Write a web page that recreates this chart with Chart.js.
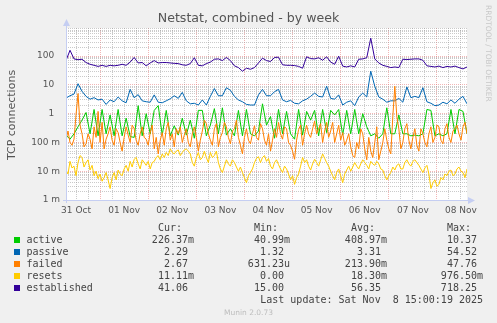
<!DOCTYPE html>
<html>
<head>
<meta charset="utf-8">
<script src="https://cdn.jsdelivr.net/npm/chart.js@4/dist/chart.umd.min.js"></script>
<style>
  html, body { margin: 0; padding: 0; background: #F0F0F0; }
  canvas { display: block; }
</style>
</head>
<body>
<canvas id="netstat" width="497" height="323"></canvas>
<script>
// week window: Oct 31 07:00 .. Nov 8 15:00, hours counted from Oct 31 00:00
const startHour = 7;
const spanHours = 200;

// 2-hour samples
const active = [
  0.18, 0.13, 0.2, 0.35, 0.6, 1.1, 0.2, 1.4, 0.17, 1.4,
  0.2, 0.9, 0.17, 1.4, 0.17, 0.7, 0.16, 0.15, 1.9, 0.17,
  1.0, 0.2, 1.3, 1.9, 0.18, 1.3, 0.17, 0.38, 0.18, 0.7,
  0.18, 0.6, 0.14, 1.3, 1.3, 0.17, 0.4, 1.5, 0.2, 1.6,
  0.18, 0.3, 0.17, 1.3, 0.17, 1.4, 0.2, 0.17, 0.25, 2.2,
  0.4, 0.8, 0.14, 1.4, 0.2, 1.2, 0.2, 0.13, 1.4, 0.18,
  1.2, 0.6, 1.3, 0.17, 1.4, 0.22, 1.3, 0.9, 1.4, 0.18,
  1.3, 0.2, 1.4, 0.2, 1.0, 0.35, 0.17, 0.2, 0.14, 0.2,
  1.6, 0.2, 0.2, 0.9, 0.2, 0.2, 0.17, 0.18, 0.17, 0.2,
  1.4, 1.3, 0.17, 0.2, 0.17, 0.2, 1.4, 0.2, 1.4, 1.2,
  0.2
];
const passive = [
  3.5, 4.2, 4.8, 11, 6, 4.0, 3.2, 3.6, 3.0, 3.2,
  2.1, 3.0, 2.6, 3.8, 2.8, 2.4, 7, 3.6, 4.6, 2.8,
  2.6, 2.5, 4.5, 2.5, 2.4, 2.8, 3.3, 4.2, 3.4, 5.5,
  2.8, 2.2, 2.3, 2.0, 3.0, 2.0, 4.0, 7.5, 4.2, 4.2,
  8, 6.5, 4.0, 3.0, 2.6, 2.1, 2.0, 2.0, 4.5, 7,
  4.2, 4.2, 5.8, 7, 3.0, 2.6, 2.9, 2.3, 2.2, 2.8,
  3.2, 4.0, 5.2, 4.0, 3.8, 9, 3.4, 3.2, 4.5, 2.0,
  2.5, 2.8, 1.9, 3.8, 5.2, 3.8, 30, 9, 3.8, 3.2,
  2.5, 2.8, 2.8, 3.4, 2.5, 8.5, 3.6, 4.0, 3.6, 8,
  2.6, 2.3, 1.9, 2.0, 2.5, 2.2, 3.0, 2.3, 3.2, 4.0,
  2.2
];
// hourly samples
const failed = [
  0.12, 0.25, 0.1, 0.08, 0.13, 0.9, 5, 0.4, 0.2, 0.07, 0.09, 0.2, 0.13, 0.06, 0.35, 0.15, 1.2, 0.1, 0.5, 0.06,
  0.13, 0.2, 0.35, 0.12, 0.08, 0.3, 0.22, 0.1, 0.05, 0.15, 0.35, 0.18, 0.1, 0.4, 0.3, 0.12, 0.08, 0.2, 0.35, 0.15,
  0.13, 0.08, 0.22, 0.4, 0.06, 0.15, 0.04, 0.12, 0.22, 0.08, 0.3, 0.5, 0.12, 0.2, 0.07, 0.3, 0.2, 0.35, 0.1, 0.18,
  0.3, 0.1, 0.07, 0.2, 0.35, 0.15, 0.05, 0.12, 0.25, 0.6, 0.45, 0.2, 0.12, 0.08, 0.3, 0.45, 0.07, 0.15, 0.22, 0.5,
  0.35, 0.15, 0.09, 0.25, 0.3, 0.6, 0.15, 0.08, 0.04, 0.15, 0.3, 0.12, 0.09, 0.2, 0.38, 0.15, 0.12, 0.45, 0.3, 0.12,
  0.08, 0.2, 0.05, 0.12, 0.3, 0.15, 0.5, 0.2, 0.13, 0.35, 0.3, 0.1, 0.08, 0.05, 0.026, 0.12, 0.28, 0.4, 0.08, 0.2,
  0.4, 0.2, 0.15, 0.3, 0.55, 0.2, 0.3, 0.45, 0.1, 0.25, 0.5, 0.15, 0.25, 0.5, 0.1, 0.2, 0.4, 0.12, 0.22, 0.08,
  0.12, 0.2, 0.07, 0.035, 0.03, 0.1, 0.06, 0.3, 0.2, 0.06, 0.025, 0.15, 0.05, 0.03, 0.1, 0.35, 0.025, 0.05, 0.1, 0.3,
  0.12, 0.06, 0.04, 0.8, 9, 0.8, 0.3, 0.06, 0.1, 0.3, 0.45, 0.12, 0.06, 0.15, 0.3, 0.08, 0.05, 0.3, 0.2, 0.1,
  0.07, 0.2, 0.35, 0.1, 0.15, 0.4, 0.35, 0.12, 0.09, 0.3, 0.45, 0.15, 0.1, 0.25, 0.3, 0.4, 0.2, 0.12, 0.35, 0.5,
  0.2
];
const resets = [
  0.011, 0.008, 0.022, 0.013, 0.015, 0.007, 0.02, 0.035, 0.03, 0.014, 0.02, 0.025, 0.011, 0.016, 0.007, 0.01, 0.0055, 0.008, 0.0045, 0.006,
  0.009, 0.005, 0.0025, 0.006, 0.009, 0.005, 0.011, 0.008, 0.007, 0.012, 0.016, 0.01, 0.022, 0.014, 0.026, 0.03, 0.018, 0.012, 0.025, 0.02,
  0.016, 0.022, 0.012, 0.02, 0.022, 0.03, 0.035, 0.025, 0.04, 0.03, 0.045, 0.035, 0.06, 0.045, 0.04, 0.05, 0.055, 0.035, 0.045, 0.055,
  0.06, 0.05, 0.04, 0.02, 0.015, 0.03, 0.045, 0.025, 0.03, 0.05, 0.03, 0.02, 0.045, 0.03, 0.035, 0.05, 0.02, 0.012, 0.009, 0.015,
  0.025, 0.018, 0.015, 0.025, 0.02, 0.014, 0.01, 0.014, 0.009, 0.006, 0.004, 0.007, 0.009, 0.012, 0.02, 0.028, 0.032, 0.02, 0.03, 0.035,
  0.022, 0.028, 0.015, 0.012, 0.02, 0.025, 0.017, 0.012, 0.009, 0.015, 0.012, 0.008, 0.005, 0.007, 0.0035, 0.006, 0.008, 0.015, 0.03, 0.02,
  0.025, 0.015, 0.011, 0.018, 0.026, 0.02, 0.015, 0.025, 0.04, 0.028, 0.02, 0.015, 0.01, 0.007, 0.005, 0.009, 0.012, 0.007, 0.004, 0.008,
  0.011, 0.015, 0.01, 0.014, 0.02, 0.015, 0.012, 0.018, 0.025, 0.02, 0.016, 0.012, 0.022, 0.018, 0.016, 0.022, 0.018, 0.012, 0.011, 0.007,
  0.005, 0.007, 0.009, 0.014, 0.011, 0.016, 0.018, 0.012, 0.012, 0.02, 0.025, 0.018, 0.015, 0.022, 0.025, 0.02, 0.016, 0.012, 0.009, 0.013,
  0.016, 0.008, 0.0025, 0.004, 0.005, 0.003, 0.0035, 0.006, 0.005, 0.008, 0.007, 0.01, 0.011, 0.007, 0.008, 0.012, 0.014, 0.01, 0.009, 0.006,
  0.012
];
// 2-hour samples
const established = [
  70, 160, 80, 75, 78, 60, 52, 48, 44, 48,
  44, 48, 46, 48, 52, 48, 62, 90, 58, 60,
  46, 58, 70, 58, 60, 60, 58, 56, 55, 50,
  48, 55, 88, 48, 46, 55, 62, 78, 80, 70,
  90, 70, 46, 40, 30, 38, 35, 40, 58, 85,
  70, 65, 90, 92, 50, 48, 48, 47, 44, 38,
  95, 82, 80, 88, 72, 95, 62, 52, 100, 45,
  42, 46, 42, 78, 80, 88, 420, 80, 58, 48,
  44, 40, 42, 40, 78, 76, 78, 80, 80, 72,
  46, 44, 42, 45, 40, 44, 42, 45, 40, 36,
  42
];

const dayLabels = ['31 Oct', '01 Nov', '02 Nov', '03 Nov', '04 Nov', '05 Nov', '06 Nov', '07 Nov', '08 Nov'];
const yTickLabels = ['1 m', '10 m', '100 m', '1  ', '10  ', '100  '];

// legend table
const seriesNames = ['active', 'passive', 'failed', 'resets', 'established'];
const curVals = ['226.37m', '2.29', '2.67', '11.11m', '41.06'];
const minVals = ['40.99m', '1.32', '631.23u', '0.00', '15.00'];
const avgVals = ['408.97m', '3.31', '213.90m', '18.30m', '56.35'];
const maxVals = ['10.37', '54.52', '47.76', '976.50m', '718.25'];
const lastUpdate = 'Last update: Sat Nov  8 15:00:19 2025';

const colors = ['#00CC00', '#0066B3', '#FF8000', '#FFCC00', '#330099'];
const series = [active, passive, failed, resets, established];

const MINOR = 'rgba(150,150,150,0.5)';
const MAJOR = 'rgba(230,110,110,0.5)';
const AXIS = '#C5CEF2';
const mono = '"DejaVu Sans Mono", monospace';
const sans = '"DejaVu Sans", sans-serif';

function isDecade(v) {
  const l = Math.log10(v);
  return Math.abs(l - Math.round(l)) < 1e-9;
}

const muninDecor = {
  id: 'muninDecor',
  beforeDraw(chart) {
    const { ctx, chartArea: a } = chart;
    ctx.save();
    ctx.fillStyle = '#F0F0F0';
    ctx.fillRect(0, 0, chart.width, chart.height);
    ctx.fillStyle = '#FFFFFF';
    ctx.fillRect(a.left, a.top, a.right - a.left, a.bottom - a.top);
    ctx.restore();
  },
  afterDraw(chart) {
    const { ctx, chartArea: a } = chart;
    ctx.save();

    // axes with arrow heads
    ctx.strokeStyle = AXIS;
    ctx.fillStyle = AXIS;
    ctx.lineWidth = 1;
    ctx.beginPath();
    ctx.moveTo(a.left + 0.5, a.bottom + 3);
    ctx.lineTo(a.left + 0.5, a.top - 3);
    ctx.moveTo(a.left - 3, a.bottom + 0.5);
    ctx.lineTo(a.right + 3, a.bottom + 0.5);
    ctx.stroke();
    ctx.beginPath();
    ctx.moveTo(a.left - 3, a.top - 2);
    ctx.lineTo(a.left + 4, a.top - 2);
    ctx.lineTo(a.left + 0.5, a.top - 9);
    ctx.closePath();
    ctx.fill();
    ctx.beginPath();
    ctx.moveTo(a.right + 1, a.bottom - 3);
    ctx.lineTo(a.right + 1, a.bottom + 4);
    ctx.lineTo(a.right + 8, a.bottom + 0.5);
    ctx.closePath();
    ctx.fill();

    // title
    ctx.fillStyle = '#555';
    ctx.font = '12.6px ' + sans;
    ctx.textAlign = 'center';
    ctx.textBaseline = 'middle';
    ctx.fillText('Netstat, combined - by week', 248.5, 19);

    // vertical axis title
    ctx.save();
    ctx.translate(12, 115);
    ctx.rotate(-Math.PI / 2);
    ctx.font = '11px ' + sans;
    ctx.fillText('TCP connections', 0, 0);
    ctx.restore();

    // side watermark
    ctx.save();
    ctx.translate(487.5, 5);
    ctx.rotate(Math.PI / 2);
    ctx.font = '7.5px ' + sans;
    ctx.fillStyle = '#C8C8C8';
    ctx.textAlign = 'left';
    ctx.fillText('RRDTOOL / TOBI OETIKER', 0, 0);
    ctx.restore();

    // legend table
    ctx.font = '10px ' + mono;
    ctx.fillStyle = '#444';
    ctx.textAlign = 'right';
    const cols = [194, 290, 387, 483];
    ['Cur:', 'Min:', 'Avg:', 'Max:'].forEach((h, c) => ctx.fillText(h, cols[c] - 12, 228));
    const withUnit = s => /[a-zA-Z]$/.test(s) ? s : s + ' ';
    seriesNames.forEach((name, r) => {
      const y = 240 + r * 12;
      ctx.fillStyle = colors[r];
      ctx.fillRect(14, y - 3, 6, 6);
      ctx.fillStyle = '#444';
      ctx.textAlign = 'left';
      ctx.fillText(name, 26.5, y);
      ctx.textAlign = 'right';
      [curVals, minVals, avgVals, maxVals].forEach((vals, c) => {
        ctx.fillText(withUnit(vals[r]), cols[c], y);
      });
    });
    ctx.fillText(lastUpdate, 483, 300);

    ctx.font = '7.5px ' + sans;
    ctx.fillStyle = '#BDBDBD';
    ctx.textAlign = 'center';
    ctx.fillText('Munin 2.0.73', 248.5, 313);
    ctx.restore();
  }
};

new Chart(document.getElementById('netstat'), {
  type: 'line',
  data: {
    datasets: series.map((values, s) => {
      const step = spanHours / (values.length - 1);
      return {
        label: seriesNames[s],
        data: values.map((v, i) => ({ x: startHour + i * step, y: v })),
        borderColor: colors[s],
        borderWidth: 1,
        pointRadius: 0,
        tension: 0,
        fill: false,
        order: series.length - s
      };
    })
  },
  options: {
    responsive: false,
    animation: false,
    devicePixelRatio: 1,
    layout: { padding: { top: 28, right: 30, bottom: 0, left: 0 } },
    plugins: {
      legend: { display: false },
      title: { display: false },
      tooltip: { enabled: false }
    },
    scales: {
      x: {
        type: 'linear',
        min: startHour,
        max: startHour + spanHours,
        afterBuildTicks(scale) {
          const t = [];
          for (let h = 12; h <= 204; h += 6) t.push({ value: h });
          scale.ticks = t;
        },
        afterFit(scale) { scale.height = 123; },
        ticks: {
          autoSkip: false,
          maxRotation: 0,
          padding: 5,
          color: '#555',
          font: { family: sans, size: 9 },
          callback: v => (v % 24 === 12 ? dayLabels[(v - 12) / 24] : '')
        },
        grid: {
          drawTicks: false,
          lineWidth: 1,
          color: c => (c.tick && c.tick.value % 24 === 0 ? MAJOR : MINOR)
        },
        border: { display: false, dash: [1, 1] }
      },
      y: {
        type: 'logarithmic',
        min: 0.001,
        max: 950,
        afterBuildTicks(scale) {
          const t = [];
          for (let e = -3; e <= 2; e++) {
            for (let m = 1; m <= 9; m++) {
              const v = parseFloat((m * Math.pow(10, e)).toPrecision(6));
              if (v <= 950) t.push({ value: v });
            }
          }
          scale.ticks = t;
        },
        afterFit(scale) { scale.width = 66; },
        ticks: {
          autoSkip: false,
          padding: 6,
          color: '#555',
          font: { family: sans, size: 9 },
          callback: v => (isDecade(v) ? yTickLabels[Math.round(Math.log10(v)) + 3] : '')
        },
        grid: {
          drawTicks: false,
          lineWidth: 1,
          color: c => (c.tick && isDecade(c.tick.value) ? MAJOR : MINOR)
        },
        border: { display: false, dash: [1, 1] }
      }
    }
  },
  plugins: [muninDecor]
});
</script>
</body>
</html>
